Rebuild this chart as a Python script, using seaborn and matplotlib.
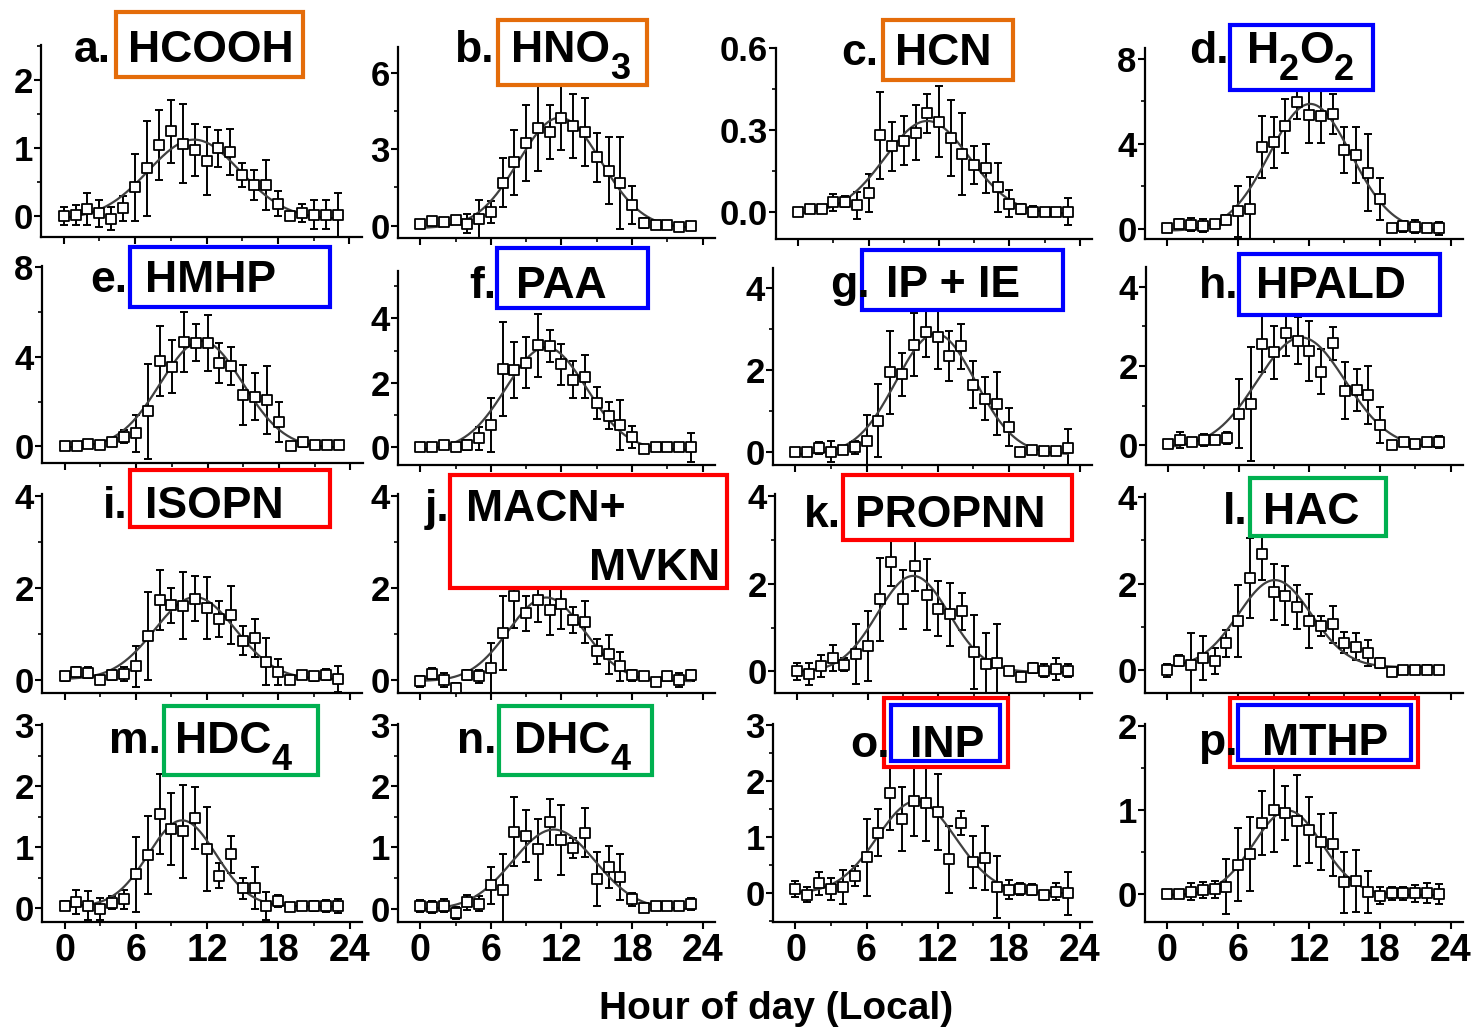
import numpy as np
import matplotlib
matplotlib.use("Agg")
import matplotlib.pyplot as plt
from matplotlib.patches import Rectangle
from matplotlib.ticker import MultipleLocator, FixedLocator, FixedFormatter
import seaborn as sns

# hourly means (local hour 0..23) and 1-sigma bars
HOURS = list(range(24))

hcooh = [0.00, 0.01, 0.10, 0.04, -0.04, 0.11, 0.42, 0.70, 1.04, 1.24, 1.06, 0.97, 0.80, 0.99, 0.94, 0.60, 0.45, 0.45, 0.18, 0.00, 0.04, 0.02, 0.02, 0.01]
hcooh_err = [0.13, 0.15, 0.23, 0.20, 0.17, 0.18, 0.49, 0.70, 0.52, 0.46, 0.58, 0.38, 0.50, 0.27, 0.34, 0.18, 0.22, 0.37, 0.18, 0.04, 0.13, 0.21, 0.21, 0.33]

hno3 = [0.08, 0.19, 0.13, 0.21, 0.08, 0.26, 0.52, 1.69, 2.48, 3.25, 3.84, 3.68, 4.22, 3.91, 3.68, 2.68, 2.16, 1.69, 0.82, 0.10, 0.04, 0.04, -0.05, 0.00]
hno3_err = [0.10, 0.10, 0.08, 0.10, 0.37, 0.75, 0.43, 0.97, 1.27, 1.49, 1.69, 1.06, 1.25, 1.25, 1.34, 0.97, 1.32, 1.80, 0.74, 0.20, 0.08, 0.06, 0.06, 0.06]

hcn = [0.00, 0.01, 0.01, 0.034, 0.037, 0.024, 0.07, 0.28, 0.24, 0.26, 0.29, 0.36, 0.33, 0.27, 0.21, 0.17, 0.16, 0.09, 0.03, 0.01, 0.00, 0.00, 0.00, 0.00]
hcn_err = [0.01, 0.01, 0.01, 0.03, 0.02, 0.05, 0.07, 0.16, 0.09, 0.09, 0.10, 0.07, 0.13, 0.14, 0.15, 0.07, 0.09, 0.09, 0.05, 0.02, 0.02, 0.01, 0.01, 0.05]

h2o2 = [0.05, 0.25, 0.20, 0.16, 0.25, 0.44, 0.83, 0.94, 3.84, 4.08, 4.83, 5.96, 5.33, 5.30, 5.41, 3.69, 3.48, 2.64, 1.41, 0.03, 0.13, 0.10, 0.05, 0.03]
h2o2_err = [0.10, 0.20, 0.30, 0.30, 0.10, 0.20, 1.20, 1.50, 1.45, 1.20, 1.27, 0.80, 1.30, 1.27, 0.93, 1.08, 1.30, 1.80, 1.00, 0.05, 0.25, 0.30, 0.10, 0.30]

hmhp = [0.03, 0.03, 0.10, 0.07, 0.19, 0.44, 0.59, 1.56, 3.82, 3.56, 4.67, 4.62, 4.62, 3.73, 3.60, 2.30, 2.22, 2.07, 1.07, 0.03, 0.19, 0.07, 0.07, 0.07]
hmhp_err = [0.05, 0.05, 0.05, 0.05, 0.10, 0.30, 0.83, 2.10, 1.55, 1.19, 1.33, 0.83, 1.24, 0.89, 0.85, 1.35, 1.04, 1.50, 0.89, 0.05, 0.20, 0.05, 0.05, 0.05]

paa = [0.00, 0.02, 0.07, 0.02, 0.07, 0.28, 0.69, 2.43, 2.40, 2.63, 3.17, 3.15, 2.57, 2.10, 2.19, 1.38, 0.98, 0.69, 0.33, -0.05, 0.02, 0.00, 0.00, 0.00]
paa_err = [0.05, 0.05, 0.10, 0.05, 0.15, 0.36, 0.84, 1.46, 0.86, 0.78, 0.98, 0.49, 0.64, 0.58, 0.66, 0.50, 0.41, 0.78, 0.34, 0.05, 0.05, 0.05, 0.10, 0.45]

ip_ie = [0.00, 0.00, 0.08, 0.00, 0.04, 0.10, 0.26, 0.76, 1.94, 1.89, 2.62, 2.93, 2.81, 2.34, 2.58, 1.64, 1.30, 1.17, 0.60, 0.00, 0.04, 0.02, 0.02, 0.08]
ip_ie_err = [0.05, 0.05, 0.15, 0.25, 0.05, 0.15, 0.64, 0.89, 1.02, 0.53, 0.78, 0.60, 0.79, 0.62, 0.55, 0.57, 0.53, 0.77, 0.46, 0.03, 0.10, 0.05, 0.08, 0.48]

hpald = [0.02, 0.14, 0.08, 0.13, 0.14, 0.19, 0.80, 1.04, 2.56, 2.35, 2.83, 2.64, 2.38, 1.86, 2.57, 1.38, 1.39, 1.27, 0.51, 0.00, 0.08, 0.02, 0.07, 0.08]
hpald_err = [0.05, 0.20, 0.10, 0.15, 0.10, 0.15, 0.88, 1.43, 0.71, 0.67, 0.59, 0.60, 0.75, 0.57, 0.42, 0.73, 0.53, 0.74, 0.46, 0.03, 0.10, 0.03, 0.08, 0.15]

isopn = [0.07, 0.17, 0.15, -0.01, 0.10, 0.13, 0.29, 0.95, 1.73, 1.62, 1.61, 1.76, 1.56, 1.32, 1.40, 0.85, 0.90, 0.39, 0.17, -0.01, 0.10, 0.07, 0.11, 0.02]
isopn_err = [0.10, 0.10, 0.12, 0.08, 0.10, 0.15, 0.44, 0.95, 0.66, 0.38, 0.73, 0.49, 0.68, 0.39, 0.63, 0.32, 0.41, 0.51, 0.29, 0.05, 0.08, 0.10, 0.12, 0.28]

macn_mvkn = [-0.03, 0.13, -0.01, -0.18, 0.10, 0.07, 0.26, 1.01, 1.83, 1.44, 1.74, 1.52, 1.65, 1.30, 1.25, 0.62, 0.55, 0.29, 0.10, 0.07, -0.04, 0.07, 0.00, 0.10]
macn_mvkn_err = [0.12, 0.12, 0.15, 0.10, 0.10, 0.15, 0.54, 0.80, 0.71, 0.38, 0.49, 0.55, 0.55, 0.29, 0.46, 0.27, 0.42, 0.31, 0.12, 0.05, 0.05, 0.10, 0.15, 0.12]

propnn = [0.00, -0.05, 0.13, 0.31, 0.15, 0.40, 0.58, 1.64, 2.49, 1.64, 2.41, 1.75, 1.43, 1.30, 1.37, 0.44, 0.18, 0.19, 0.02, -0.12, 0.08, 0.02, 0.05, 0.02]
propnn_err = [0.20, 0.25, 0.25, 0.30, 0.15, 0.68, 0.80, 0.95, 0.55, 0.68, 0.58, 0.80, 0.62, 0.71, 0.42, 0.84, 0.70, 0.90, 0.08, 0.05, 0.12, 0.15, 0.25, 0.15]

hac = [0.00, 0.22, 0.12, 0.29, 0.22, 0.62, 1.14, 2.12, 2.67, 1.81, 1.72, 1.46, 1.14, 1.02, 1.06, 0.64, 0.54, 0.40, 0.17, -0.04, 0.02, 0.00, 0.02, 0.02]
hac_err = [0.15, 0.13, 0.73, 0.50, 0.30, 0.30, 0.83, 0.92, 0.60, 0.64, 0.68, 0.50, 0.63, 0.23, 0.43, 0.25, 0.31, 0.30, 0.12, 0.05, 0.05, 0.05, 0.10, 0.08]

hdc4 = [0.04, 0.10, 0.04, -0.01, 0.09, 0.14, 0.55, 0.87, 1.54, 1.29, 1.26, 1.48, 0.97, 0.53, 0.88, 0.32, 0.33, 0.03, 0.11, 0.02, 0.03, 0.03, 0.03, 0.03]
hdc4_err = [0.08, 0.20, 0.24, 0.18, 0.10, 0.15, 0.62, 0.64, 0.66, 0.59, 0.76, 0.51, 0.69, 0.21, 0.30, 0.17, 0.34, 0.23, 0.10, 0.03, 0.05, 0.08, 0.10, 0.12]

dhc4 = [0.04, 0.03, 0.05, -0.07, 0.10, 0.08, 0.38, 0.30, 1.26, 1.19, 0.97, 1.42, 1.12, 0.99, 1.24, 0.48, 0.68, 0.52, 0.15, 0.01, 0.04, 0.05, 0.04, 0.07]
dhc4_err = [0.10, 0.10, 0.10, 0.10, 0.12, 0.12, 0.30, 0.60, 0.57, 0.42, 0.50, 0.38, 0.57, 0.16, 0.40, 0.44, 0.34, 0.38, 0.10, 0.05, 0.04, 0.04, 0.05, 0.10]

inp = [0.07, -0.03, 0.17, 0.07, 0.11, 0.30, 0.64, 1.08, 1.79, 1.32, 1.64, 1.60, 1.45, 0.60, 1.25, 0.55, 0.63, 0.11, 0.06, 0.07, 0.06, -0.04, 0.02, -0.01]
inp_err = [0.15, 0.13, 0.20, 0.20, 0.30, 0.18, 0.69, 0.42, 0.66, 0.57, 0.63, 0.67, 0.68, 0.60, 0.21, 0.46, 0.57, 0.55, 0.17, 0.10, 0.10, 0.08, 0.15, 0.39]

mthp = [0.00, 0.00, 0.03, 0.05, 0.06, 0.09, 0.35, 0.48, 0.85, 1.00, 0.96, 0.87, 0.76, 0.62, 0.59, 0.14, 0.16, 0.03, -0.02, 0.01, 0.01, 0.01, 0.01, 0.00]
mthp_err = [0.05, 0.05, 0.10, 0.10, 0.10, 0.33, 0.43, 0.44, 0.38, 0.50, 0.32, 0.54, 0.39, 0.33, 0.37, 0.36, 0.37, 0.25, 0.10, 0.08, 0.08, 0.10, 0.12, 0.12]

ORANGE = "#E46C0A"
BLUE = "#0000FF"
RED = "#FF0000"
GREEN = "#00B050"

W, H = 1474, 1028

# letter, name pieces (text, is_subscript), values, errors, ylim, yticks, ytick labels, minor step,
# axes box in pixels (left, top, right, bottom), frame boxes [(x0, y0, x1, y1, colour)], name x, baseline, letter right edge
panels = [
    ("a.", [("HCOOH", 0)], hcooh, hcooh_err, (-0.31, 2.51), [0, 1, 2], None, 0.5,
     (41, 45, 362, 237), [(116, 12, 303, 77, ORANGE)], 128, 62, 111),
    ("b.", [("HNO", 0), ("3", 1)], hno3, hno3_err, (-0.48, 7.0), [0, 3, 6], None, 1.5,
     (398, 47, 715, 238), [(498, 20, 647, 85, ORANGE)], 511, 62, 494),
    ("c.", [("HCN", 0)], hcn, hcn_err, (-0.10, 0.60), [0, 0.3, 0.6], ["0.0", "0.3", "0.6"], 0.15,
     (776, 48, 1092, 239), [(883, 20, 1013, 80, ORANGE)], 895, 65, 878),
    ("d.", [("H", 0), ("2", 1), ("O", 0), ("2", 1)], h2o2, h2o2_err, (-0.47, 8.5), [0, 4, 8], None, 2,
     (1145, 48, 1463, 239), [(1230, 25, 1373, 90, BLUE)], 1247, 63, 1229),
    ("e.", [("HMHP", 0)], hmhp, hmhp_err, (-0.74, 8.05), [0, 4, 8], None, 2,
     (42, 266, 363, 463), [(130, 247, 330, 307, BLUE)], 145, 292, 127),
    ("f.", [("PAA", 0)], paa, paa_err, (-0.55, 5.47), [0, 2, 4], None, 1,
     (398, 271, 715, 465), [(497, 248, 648, 308, BLUE)], 516, 298, 496),
    ("g.", [("IP + IE", 0)], ip_ie, ip_ie_err, (-0.33, 4.5), [0, 2, 4], None, 1,
     (773, 268, 1092, 465), [(862, 250, 1063, 310, BLUE)], 886, 297, 870),
    ("h.", [("HPALD", 0)], hpald, hpald_err, (-0.5, 4.5), [0, 2, 4], None, 1,
     (1146, 267, 1463, 465), [(1239, 254, 1440, 315, BLUE)], 1256, 298, 1239),
    ("i.", [("ISOPN", 0)], isopn, isopn_err, (-0.29, 4.04), [0, 2, 4], None, 1,
     (42, 494, 362, 693), [(130, 470, 330, 527, RED)], 145, 518, 128),
    ("j.", [("MACN+", 0)], macn_mvkn, macn_mvkn_err, (-0.29, 4.04), [0, 2, 4], None, 1,
     (398, 494, 715, 693), [(450, 475, 727, 588, RED)], 466, 521, 449),
    ("k.", [("PROPNN", 0)], propnn, propnn_err, (-0.49, 4.04), [0, 2, 4], None, 1,
     (775, 494, 1092, 693), [(843, 475, 1072, 540, RED)], 855, 527, 841),
    ("l.", [("HAC", 0)], hac, hac_err, (-0.52, 4.06), [0, 2, 4], None, 1,
     (1145, 494, 1463, 693), [(1250, 478, 1386, 536, GREEN)], 1263, 524, 1248),
    ("m.", [("HDC", 0), ("4", 1)], hdc4, hdc4_err, (-0.23, 3.02), [0, 1, 2, 3], None, 0.5,
     (42, 724, 362, 922), [(164, 706, 318, 775, GREEN)], 175, 753, 161),
    ("n.", [("DHC", 0), ("4", 1)], dhc4, dhc4_err, (-0.22, 3.02), [0, 1, 2, 3], None, 0.5,
     (398, 724, 715, 922), [(499, 706, 652, 775, GREEN)], 514, 753, 496),
    ("o.", [("INP", 0)], inp, inp_err, (-0.52, 3.02), [0, 1, 2, 3], None, 0.5,
     (773, 724, 1092, 922), [(884, 698, 1008, 767, RED), (891, 705, 1000, 761, BLUE)], 910, 757, 890),
    ("p.", [("MTHP", 0)], mthp, mthp_err, (-0.33, 2.02), [0, 1, 2], None, 0.5,
     (1145, 724, 1463, 922), [(1230, 698, 1418, 767, RED), (1238, 705, 1411, 760, BLUE)], 1262, 755, 1238),
]


def gaussFit(x, y):
    # least-squares Gaussian + offset, grid over centre/width, linear in offset/amplitude
    x = np.asarray(x, float)
    y = np.asarray(y, float)
    centres = np.arange(5.0, 17.0, 0.05)
    widths = np.arange(1.5, 7.0, 0.05)
    C, S = np.meshgrid(centres, widths, indexing="ij")
    G = np.exp(-(x[None, None, :] - C[..., None]) ** 2 / (2 * S[..., None] ** 2))
    gm = G.mean(axis=-1, keepdims=True)
    ym = y.mean()
    cov = ((G - gm) * (y - ym)).sum(axis=-1)
    var = ((G - gm) ** 2).sum(axis=-1)
    amp = cov / var
    off = ym - amp * gm[..., 0]
    resid = ((off[..., None] + amp[..., None] * G - y) ** 2).sum(axis=-1)
    i, j = np.unravel_index(np.argmin(resid), resid.shape)
    return off[i, j], amp[i, j], C[i, j], S[i, j]


sns.set_theme(style="ticks")
plt.rcParams["font.family"] = ["Liberation Sans", "DejaVu Sans"]
plt.rcParams["font.weight"] = "bold"
plt.rcParams["axes.linewidth"] = 1.6
for key in ["text.color", "axes.edgecolor", "axes.labelcolor", "xtick.color", "ytick.color",
            "xtick.labelcolor", "ytick.labelcolor"]:
    plt.rcParams[key] = "black"

fig = plt.figure(figsize=(W / 100, H / 100), dpi=100)
fig.patch.set_facecolor("white")
renderer = fig.canvas.get_renderer()

NAME_SIZE = 32
SUB_SIZE = 26
SUB_DROP = 17

for idx, (letter, pieces, vals, errs, ylim, yticks, ylabels, yminor,
          rect, boxes, nameX, baseY, letterX) in enumerate(panels):
    l, t, r, b = rect
    ax = fig.add_axes([l / W, 1 - b / H, (r - l) / W, (b - t) / H])
    ax.set_facecolor("white")

    ax.errorbar(HOURS, vals, yerr=errs, fmt="none", ecolor="black",
                elinewidth=1.4, capsize=2.6, capthick=1.4, zorder=3)
    off, amp, cen, wid = gaussFit(HOURS, vals)
    xs = np.linspace(0, 23, 300)
    fit = off + amp * np.exp(-(xs - cen) ** 2 / (2 * wid ** 2))
    sns.lineplot(x=xs, y=fit, ax=ax, color="#404040", linewidth=1.6, zorder=4)
    sns.scatterplot(x=HOURS, y=vals, ax=ax, marker="s", s=48, color="white",
                    edgecolor="black", linewidth=1.3, zorder=5)

    ax.set_xlim(-1.9, 25.05)
    ax.set_ylim(*ylim)
    ax.xaxis.set_major_locator(FixedLocator([0, 6, 12, 18, 24]))
    ax.xaxis.set_minor_locator(MultipleLocator(3))
    ax.yaxis.set_major_locator(FixedLocator(yticks))
    if ylabels is not None:
        ax.yaxis.set_major_formatter(FixedFormatter(ylabels))
    ax.yaxis.set_minor_locator(MultipleLocator(yminor))
    ax.tick_params(which="major", length=5, width=1.5, color="black", direction="out")
    ax.tick_params(which="minor", length=3, width=1.2, color="black", direction="out")
    ax.tick_params(axis="y", labelsize=25, pad=1, labelcolor="black")
    ax.tick_params(axis="x", labelsize=27, pad=3, labelcolor="black", labelbottom=(idx >= 12))
    for lab in ax.get_xticklabels() + ax.get_yticklabels():
        lab.set_fontweight("bold")
    ax.set_xlabel("")
    ax.set_ylabel("")
    sns.despine(ax=ax)

    # coloured frames round the species name
    for k, (x0, y0, x1, y1, col) in enumerate(boxes):
        fig.add_artist(Rectangle((x0 / W, 1 - y1 / H), (x1 - x0) / W, (y1 - y0) / H,
                                 transform=fig.transFigure, facecolor="white" if k == 0 else "none",
                                 edgecolor=col, linewidth=3, zorder=6))
    fig.text(letterX / W, 1 - baseY / H, letter, fontsize=NAME_SIZE, fontweight="bold",
             ha="right", va="baseline", zorder=7, color="black")
    x = nameX
    for text, sub in pieces:
        y = baseY + (SUB_DROP if sub else 0)
        tx = fig.text(x / W, 1 - y / H, text, fontsize=SUB_SIZE if sub else NAME_SIZE,
                      fontweight="bold", ha="left", va="baseline", zorder=7, color="black")
        x = tx.get_window_extent(renderer).x1
    if letter == "j.":
        fig.text(720 / W, 1 - 580 / H, "MVKN", fontsize=NAME_SIZE, fontweight="bold",
                 ha="right", va="baseline", zorder=7, color="black")

fig.text(776 / W, 1 - 1019 / H, "Hour of day (Local)", fontsize=28, fontweight="bold",
         ha="center", va="baseline", color="black")

fig.savefig("out.png", dpi=100)
